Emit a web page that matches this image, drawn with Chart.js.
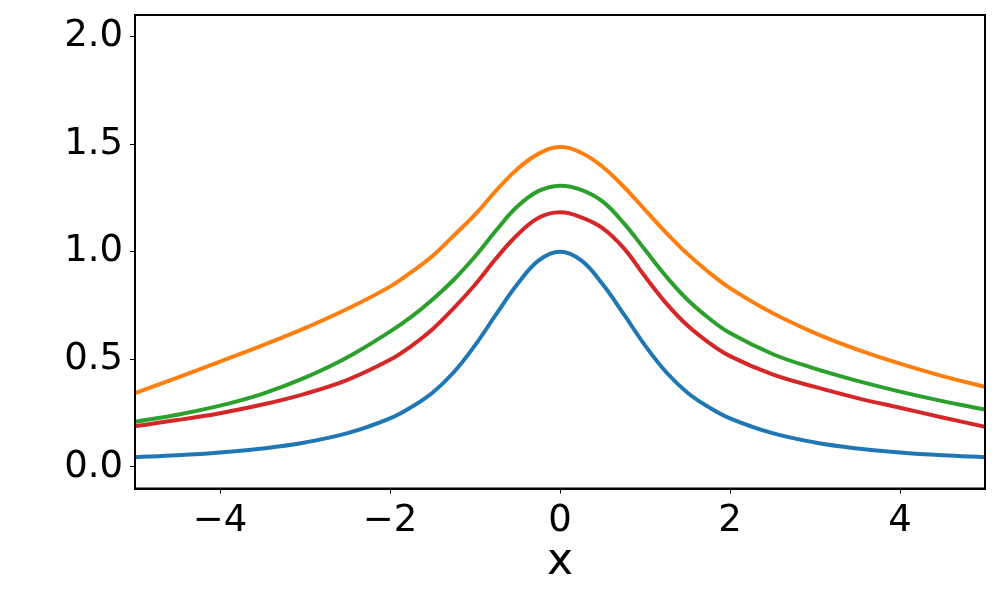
<!DOCTYPE html>
<html>
<head>
<meta charset="utf-8">
<script src="https://cdn.jsdelivr.net/npm/chart.js@4"></script>
<style>
  html, body { margin: 0; padding: 0; background: #fff; }
  #wrap { width: 1000px; height: 600px; position: relative; }
</style>
</head>
<body>
<div id="wrap"><canvas id="chart"></canvas></div>
<script>
// sample positions along x
const X_VALUES = [-5, -4.5, -4, -3.5, -3, -2.5, -2, -1.75, -1.5, -1.25, -1, -0.75, -0.5, -0.25, 0,
                  0.25, 0.5, 0.75, 1, 1.25, 1.5, 1.75, 2, 2.5, 3, 3.5, 4, 4.5, 5];

const BLUE_VALUES = [0.045, 0.054, 0.067, 0.086, 0.114, 0.157, 0.226, 0.278, 0.345, 0.44, 0.565, 0.71, 0.85, 0.96, 1.0,
                     0.96, 0.85, 0.71, 0.565, 0.44, 0.345, 0.278, 0.226, 0.157, 0.114, 0.086, 0.067, 0.054, 0.045];
const ORANGE_VALUES = [0.343, 0.415, 0.49, 0.565, 0.645, 0.735, 0.838, 0.905, 0.98, 1.075, 1.172, 1.285, 1.385, 1.456, 1.487,
                       1.46, 1.395, 1.302, 1.195, 1.088, 0.99, 0.905, 0.831, 0.715, 0.622, 0.545, 0.48, 0.422, 0.372];
const GREEN_VALUES = [0.21, 0.243, 0.285, 0.34, 0.415, 0.51, 0.629, 0.697, 0.778, 0.87, 0.978, 1.1, 1.211, 1.283, 1.307,
                      1.288, 1.234, 1.133, 1.009, 0.885, 0.777, 0.692, 0.622, 0.525, 0.457, 0.4, 0.35, 0.306, 0.267];
const RED_VALUES = [0.19, 0.218, 0.25, 0.29, 0.34, 0.405, 0.498, 0.562, 0.64, 0.738, 0.847, 0.97, 1.079, 1.158, 1.183,
                    1.16, 1.11, 1.017, 0.885, 0.76, 0.657, 0.578, 0.515, 0.43, 0.372, 0.32, 0.275, 0.23, 0.187];

const X_TICKS = [-4, -2, 0, 2, 4];
const Y_TICKS = [0, 0.5, 1, 1.5, 2];

const FONT = "'DejaVu Sans', sans-serif";

function toPoints(values) {
    return values.map((v, i) => ({ x: X_VALUES[i], y: v }));
}

function lineSet(values, color) {
    return {
        data: toPoints(values),
        borderColor: color,
        backgroundColor: color,
        borderWidth: 4,
        pointRadius: 0,
        tension: 0.4,
        fill: false,
    };
}

// black box round the plot area, like a matplotlib frame
const frame = {
    id: 'frame',
    afterDatasetsDraw(chart) {
        const { ctx, chartArea: a } = chart;
        ctx.save();
        ctx.strokeStyle = '#000';
        ctx.lineWidth = 2;
        ctx.strokeRect(a.left, a.top, a.right - a.left, a.bottom - a.top);
        ctx.restore();
    },
};

const tickStyle = { display: true, drawOnChartArea: false, drawTicks: true, tickLength: 5, color: '#000', tickWidth: 1 };

function noEdgePadding(axis) {
    axis.paddingTop = 0;
    axis.paddingBottom = 0;
    axis.paddingLeft = 0;
    axis.paddingRight = 0;
}

new Chart(document.getElementById('chart'), {
    type: 'line',
    data: {
        datasets: [
            lineSet(BLUE_VALUES, '#1f77b4'),
            lineSet(ORANGE_VALUES, '#ff7f0e'),
            lineSet(GREEN_VALUES, '#2ca02c'),
            lineSet(RED_VALUES, '#d62728'),
        ],
    },
    options: {
        responsive: true,
        maintainAspectRatio: false,
        animation: false,
        layout: { padding: { top: 15, right: 15, left: 0, bottom: 0 } },
        plugins: { legend: { display: false }, tooltip: { enabled: false } },
        scales: {
            x: {
                type: 'linear',
                min: -5,
                max: 5,
                afterBuildTicks: axis => { axis.ticks = X_TICKS.map(v => ({ value: v })); },
                afterFit: axis => { axis.height = 111.5; noEdgePadding(axis); },
                ticks: {
                    color: '#000',
                    padding: 6,
                    maxRotation: 0,
                    font: { family: FONT, size: 37 },
                    callback: v => String(v).replace('-', '\u2212'),
                },
                grid: tickStyle,
                border: { display: true, color: '#000', width: 2 },
                title: { display: true, text: 'x', color: '#000', font: { family: FONT, size: 44 }, padding: { top: 0, bottom: 11 } },
            },
            y: {
                type: 'linear',
                min: -0.1,
                max: 2.1,
                afterBuildTicks: axis => { axis.ticks = Y_TICKS.map(v => ({ value: v })); },
                afterFit: axis => { axis.width = 135; noEdgePadding(axis); },
                ticks: {
                    color: '#000',
                    padding: 7,
                    font: { family: FONT, size: 37 },
                    callback: v => v.toFixed(1),
                },
                grid: tickStyle,
                border: { display: true, color: '#000', width: 2 },
            },
        },
    },
    plugins: [frame],
});
</script>
</body>
</html>
